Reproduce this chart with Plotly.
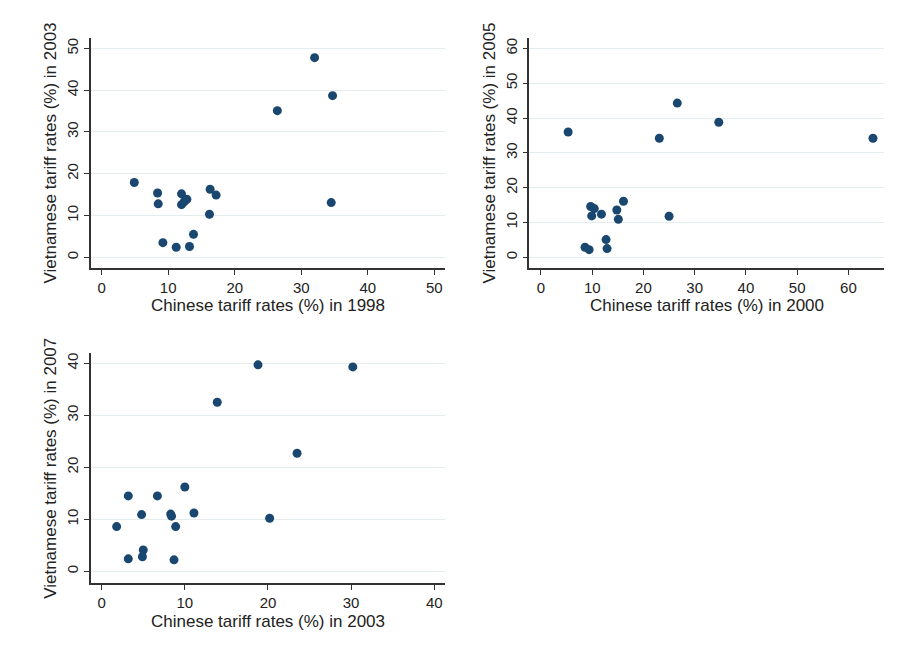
import plotly.graph_objects as go

# Panel 1: Chinese 1998 vs Vietnamese 2003
cn_1998 = [4.9, 8.4, 8.5, 9.2, 11.2, 13.2, 13.8, 12.0, 12.8, 12.0, 12.4, 16.3, 17.2, 16.2, 26.4, 32.0, 34.7, 34.5]
vn_2003 = [17.9, 15.4, 12.8, 3.5, 2.4, 2.6, 5.5, 15.2, 13.9, 12.6, 13.3, 16.3, 14.9, 10.3, 35.1, 47.8, 38.7, 13.1]

# Panel 2: Chinese 2000 vs Vietnamese 2005
cn_2000 = [5.3, 23.1, 26.6, 34.7, 64.8, 25.0, 16.1, 14.8, 15.1, 9.7, 10.4, 9.9, 11.8, 8.6, 9.4, 12.7, 12.9]
vn_2005 = [36.0, 34.2, 44.3, 38.8, 34.2, 11.8, 16.1, 13.6, 10.9, 14.6, 14.0, 11.9, 12.4, 2.9, 2.2, 5.1, 2.5]

# Panel 3: Chinese 2003 vs Vietnamese 2007
cn_2003 = [1.8, 3.2, 3.2, 4.8, 4.9, 5.0, 6.7, 8.3, 8.4, 8.9, 8.7, 10.0, 11.1, 13.9, 18.8, 20.2, 23.5, 30.2]
vn_2007 = [8.6, 14.5, 2.4, 10.9, 2.8, 4.1, 14.5, 11.0, 10.6, 8.6, 2.2, 16.2, 11.2, 32.5, 39.7, 10.2, 22.7, 39.3]

x_titles = ["Chinese tariff rates (%) in 1998", "Chinese tariff rates (%) in 2000", "Chinese tariff rates (%) in 2003"]
y_titles = ["Vietnamese tariff rates (%) in 2003", "Vietnamese tariff rates (%) in 2005", "Vietnamese tariff rates (%) in 2007"]
x_ticks = [[0, 10, 20, 30, 40, 50], [0, 10, 20, 30, 40, 50, 60], [0, 10, 20, 30, 40]]
y_ticks = [[0, 10, 20, 30, 40, 50], [0, 10, 20, 30, 40, 50, 60], [0, 10, 20, 30, 40]]

# page body has an 8px margin; size figure to fit inside the window
OFF = 8
W, H = 907 - 2 * OFF, 662 - 2 * OFF
NAVY = "#1a476f"
AX = "#333333"
GRID = "#e4ecf0"
TXT = "#222222"
FONT = "Liberation Sans, Arial, sans-serif"

# pixel boxes in window coords (left, right, top, bottom) and ranges
boxes = [(90.7, 445, 38, 268), (529.3, 884, 38, 268), (90.7, 445, 353.3, 583.3)]
xranges = [[-1.65, 51.6], [-2.28, 66.95], [-1.32, 41.29]]
yranges = [[-2.56, 52.5], [-3.07, 63.0], [-2.31, 41.92]]
xtitle_y = [305, 305, 621]  # window px centre of x-axis titles

fig = go.Figure()
data = [(cn_1998, vn_2003), (cn_2000, vn_2005), (cn_2003, vn_2007)]
annots = []
for i, (xs, ys) in enumerate(data):
    suf = "" if i == 0 else str(i + 1)
    fig.add_trace(go.Scatter(
        x=xs, y=ys, mode="markers",
        marker=dict(color=NAVY, size=9, line=dict(width=0)),
        xaxis="x" + suf, yaxis="y" + suf, showlegend=False,
        hoverinfo="x+y",
    ))
    l, r, t, b = [v - OFF for v in boxes[i]]
    fig.layout["xaxis" + suf] = dict(
        domain=[l / W, r / W], range=xranges[i], anchor="y" + suf,
        tickvals=x_ticks[i], showgrid=False, zeroline=False,
        showline=True, linecolor=AX, linewidth=1.5,
        ticks="outside", ticklen=5, tickcolor=AX, tickwidth=1,
        tickfont=dict(family=FONT, size=15, color=TXT),
        automargin=False,
    )
    fig.layout["yaxis" + suf] = dict(
        domain=[1 - b / H, 1 - t / H], range=yranges[i], anchor="x" + suf,
        tickvals=y_ticks[i], showgrid=True, gridcolor=GRID, gridwidth=1, zeroline=False,
        showline=True, linecolor=AX, linewidth=1.5,
        ticks="outside", ticklen=5, tickcolor=AX, tickwidth=1,
        tickangle=-90,
        tickfont=dict(family=FONT, size=15, color=TXT),
        title=dict(text=y_titles[i], font=dict(family=FONT, size=17, color=TXT), standoff=3),
        automargin=False,
    )
    annots.append(dict(
        text=x_titles[i], xref="paper", yref="paper",
        x=(l + r) / 2 / W, y=1 - (xtitle_y[i] - OFF) / H,
        xanchor="center", yanchor="middle", showarrow=False,
        font=dict(family=FONT, size=17, color=TXT),
    ))

fig.update_layout(
    width=W, height=H,
    margin=dict(l=0, r=0, t=0, b=0),
    paper_bgcolor="white", plot_bgcolor="white",
    font=dict(family=FONT),
    annotations=annots,
)

fig.write_html("out.html")
